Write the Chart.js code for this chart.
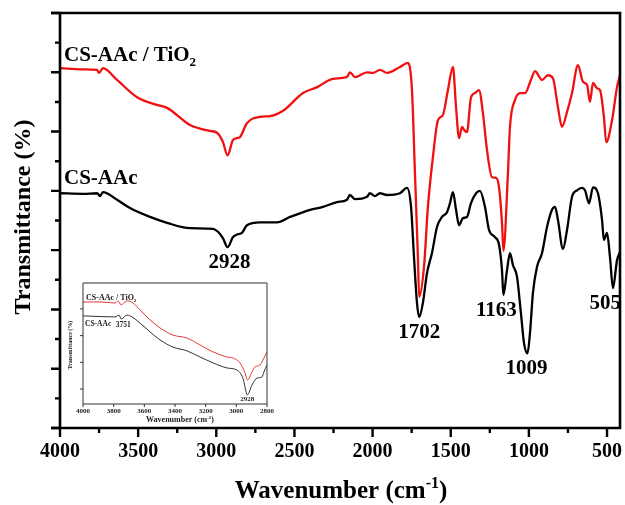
<!DOCTYPE html>
<html>
<head>
<meta charset="utf-8">
<script src="https://cdn.jsdelivr.net/npm/chart.js@4.4.1/dist/chart.umd.min.js"></script>
<style>
  html, body { margin: 0; padding: 0; background: #fff; }
  #wrap { position: relative; width: 625px; height: 505px; }
  #mainChart { position: absolute; left: 0; top: 0; }
  #insetChart { position: absolute; left: 63px; top: 276px; }
</style>
</head>
<body>
<div id="wrap">
  <canvas id="mainChart" width="625" height="505"></canvas>
  <canvas id="insetChart" width="212" height="149"></canvas>
</div>
<script>
const SERIF = '"Liberation Serif", "Times New Roman", serif';

// FTIR spectra, full range (wavenumber in cm-1, transmittance in arbitrary %)
const tio2Wavenumber = [4000, 3853, 3763, 3750, 3725, 3635, 3507, 3379, 3315, 3168, 3040, 2995, 2957, 2928, 2893, 2868, 2848, 2804, 2720, 2656, 2573, 2445, 2355, 2253, 2164, 2145, 2113, 2036, 1997, 1953, 1908, 1825, 1774, 1748, 1729, 1710, 1702, 1671, 1646, 1614, 1582, 1550, 1518, 1486, 1466, 1447, 1428, 1415, 1396, 1371, 1345, 1319, 1294, 1268, 1236, 1210, 1191, 1172, 1163, 1134, 1121, 1089, 1057, 1025, 987, 961, 916, 878, 846, 814, 788, 756, 724, 686, 654, 628, 609, 590, 564, 545, 520, 505, 468, 436, 417];
const tio2Transmittance = [60.7, 60.5, 60.4, 59.9, 60.7, 58.7, 55.8, 54.5, 54.0, 51.1, 50.1, 49.8, 48.2, 46.0, 48.6, 48.9, 49.1, 51.4, 52.5, 52.6, 53.5, 56.5, 57.5, 58.9, 59.2, 60.0, 59.2, 60.0, 59.9, 60.4, 59.9, 60.9, 61.6, 57.0, 43.0, 28.8, 22.1, 27.2, 37.3, 45.7, 51.9, 52.8, 57.0, 60.9, 54.1, 48.9, 50.8, 50.3, 49.9, 55.7, 56.5, 57.0, 53.1, 46.9, 42.3, 42.2, 40.6, 34.6, 29.9, 43.0, 50.8, 55.3, 56.5, 56.5, 58.7, 60.2, 58.7, 59.5, 59.0, 54.1, 50.8, 53.3, 56.5, 61.2, 58.4, 57.9, 55.0, 58.2, 57.3, 57.0, 52.5, 48.2, 51.9, 57.5, 59.5];

const csWavenumber = [4000, 3853, 3763, 3744, 3725, 3635, 3552, 3424, 3315, 3168, 3021, 2989, 2957, 2928, 2893, 2861, 2836, 2804, 2720, 2612, 2528, 2400, 2317, 2228, 2164, 2145, 2113, 2036, 2017, 1985, 1953, 1908, 1825, 1780, 1754, 1735, 1716, 1702, 1678, 1652, 1620, 1588, 1556, 1524, 1505, 1486, 1466, 1447, 1422, 1396, 1371, 1338, 1313, 1281, 1255, 1217, 1191, 1172, 1163, 1140, 1121, 1102, 1076, 1051, 1031, 1009, 993, 974, 948, 916, 884, 852, 833, 814, 782, 756, 724, 692, 660, 641, 615, 590, 558, 532, 520, 500, 481, 462, 436, 417];
const csTransmittance = [39.6, 39.5, 39.6, 39.1, 39.8, 38.5, 37.1, 35.6, 34.6, 33.7, 33.6, 33.1, 32.0, 30.5, 32.2, 32.7, 32.9, 34.2, 34.7, 34.7, 35.6, 36.8, 37.3, 38.1, 38.5, 39.3, 38.6, 39.0, 39.6, 39.1, 39.6, 39.3, 39.6, 40.5, 37.3, 28.8, 21.1, 18.7, 21.1, 26.1, 29.5, 33.9, 35.6, 36.4, 37.9, 39.8, 36.8, 34.2, 35.4, 35.6, 37.9, 39.6, 40.0, 37.3, 33.4, 32.2, 30.9, 26.6, 22.4, 26.6, 29.5, 27.5, 25.5, 19.4, 14.3, 12.6, 16.0, 22.8, 27.2, 29.5, 33.9, 36.8, 37.3, 35.1, 30.2, 33.4, 39.0, 40.1, 40.5, 40.1, 37.9, 40.6, 39.6, 35.1, 31.7, 32.9, 28.8, 23.6, 28.3, 29.7];

// zoomed 4000-2800 region
const insetTio2Wavenumber = [4000, 3889, 3791, 3772, 3751, 3726, 3707, 3674, 3628, 3563, 3498, 3413, 3322, 3237, 3152, 3061, 3022, 2976, 2943, 2928, 2898, 2878, 2846, 2820, 2800];
const insetTio2Transmittance = [62.6, 62.6, 62.2, 63.0, 61.5, 62.6, 63.0, 62.2, 59.6, 55.9, 52.9, 50.2, 49.1, 46.5, 43.9, 42.0, 41.6, 39.8, 36.0, 33.4, 36.4, 38.3, 39.0, 41.6, 43.9];
const insetCsWavenumber = [4000, 3791, 3765, 3751, 3713, 3680, 3628, 3563, 3498, 3413, 3322, 3237, 3152, 3061, 2996, 2957, 2928, 2898, 2865, 2833, 2820, 2800];
const insetCsTransmittance = [57.4, 57.0, 57.7, 56.2, 57.7, 57.0, 54.7, 51.4, 48.4, 45.7, 44.3, 42.0, 39.8, 37.9, 37.1, 34.1, 27.8, 31.5, 34.1, 34.5, 36.4, 39.0];

// ticks
const mainXTicks = [4000, 3750, 3500, 3250, 3000, 2750, 2500, 2250, 2000, 1750, 1500, 1250, 1000, 750, 500];
const mainYTicks = [0, 5, 10, 15, 20, 25, 30, 35, 40, 45, 50, 55, 60, 65, 70];
const insetXTicks = [4000, 3800, 3600, 3400, 3200, 3000, 2800];
const insetYTicks = [30, 40, 50, 60];

// band positions marked on the spectrum
const peakLabels = [2928, 1702, 1163, 1009, 505];
const peakLabelShift = [2, 0, -7, -1, -1];

const zip = (xs, ys) => xs.map((x, i) => ({ x: x, y: ys[i] }));

function drawRich(ctx, parts, x, y, size, align) {
  const fontFor = m => 'bold ' + (m ? Math.round(size * 0.62) : size) + 'px ' + SERIF;
  let total = 0;
  parts.forEach(([t, m]) => { ctx.font = fontFor(m); total += ctx.measureText(t).width; });
  let cx = align === 'center' ? x - total / 2 : x;
  ctx.textAlign = 'left';
  ctx.textBaseline = 'alphabetic';
  parts.forEach(([t, m]) => {
    ctx.font = fontFor(m);
    const dy = m === 'sub' ? size * 0.22 : m === 'sup' ? -size * 0.42 : 0;
    ctx.fillText(t, cx, y + dy);
    cx += ctx.measureText(t).width;
  });
}

// box, tick marks, titles and text labels
const frameTicks = {
  id: 'frameTicks',
  afterDraw(chart, args, o) {
    const { ctx, chartArea: a, scales: { x, y } } = chart;
    ctx.save();
    ctx.strokeStyle = o.color;
    ctx.lineWidth = o.frameWidth;
    ctx.beginPath();
    ctx.moveTo(a.left - o.overhang, a.top); ctx.lineTo(a.right, a.top);
    ctx.lineTo(a.right, a.bottom); ctx.lineTo(a.left - o.overhang, a.bottom);
    ctx.moveTo(a.left, a.top); ctx.lineTo(a.left, a.bottom);
    ctx.stroke();

    ctx.lineWidth = o.tickWidth;
    ctx.beginPath();
    x.ticks.forEach(t => {
      const px = x.getPixelForValue(t.value);
      const len = t.value % o.xMajor === 0 ? o.majorLen : o.minorLen;
      ctx.moveTo(px, a.bottom); ctx.lineTo(px, a.bottom + len);
    });
    y.ticks.forEach(t => {
      const py = y.getPixelForValue(t.value);
      const len = t.value % o.yMajor === 0 ? o.majorLen : o.minorLen;
      ctx.moveTo(a.left, py); ctx.lineTo(a.left - len, py);
    });
    ctx.stroke();

    ctx.fillStyle = '#000';
    o.draw(chart, ctx, a, x, y);
    ctx.restore();
  }
};

function lineSet(data, color, width) {
  return {
    data: data,
    borderColor: color,
    borderWidth: width,
    pointRadius: 0,
    fill: false,
    cubicInterpolationMode: 'monotone'
  };
}

new Chart(document.getElementById('mainChart'), {
  type: 'line',
  data: {
    datasets: [
      lineSet(zip(tio2Wavenumber, tio2Transmittance), '#f01010', 2.3),
      lineSet(zip(csWavenumber, csTransmittance), '#000000', 2.3)
    ]
  },
  options: {
    responsive: false,
    animation: false,
    layout: { padding: { top: 13, right: 5, left: 0, bottom: 0 } },
    scales: {
      x: {
        type: 'linear',
        reverse: true,
        min: 417,
        max: 4000,
        grid: { display: false, drawTicks: false },
        border: { display: false },
        afterBuildTicks: s => { s.ticks = mainXTicks.map(v => ({ value: v })); },
        afterFit: s => { s.height = 77; s.paddingLeft = 0; s.paddingRight = 0; },
        ticks: {
          autoSkip: false,
          maxRotation: 0,
          minRotation: 0,
          padding: 12,
          color: '#000',
          font: { family: SERIF, size: 20, weight: 'bold' },
          callback: v => (v % 500 === 0 ? String(v) : '')
        }
      },
      y: {
        type: 'linear',
        min: 0,
        max: 70,
        grid: { display: false, drawTicks: false },
        border: { display: false },
        afterBuildTicks: s => { s.ticks = mainYTicks.map(v => ({ value: v })); },
        afterFit: s => { s.width = 60; s.paddingTop = 0; s.paddingBottom = 0; },
        ticks: { display: false }
      }
    },
    plugins: {
      legend: { display: false },
      tooltip: { enabled: false },
      frameTicks: {
        color: '#000',
        frameWidth: 2.6,
        tickWidth: 2.4,
        overhang: 9,
        majorLen: 9,
        minorLen: 5,
        xMajor: 500,
        yMajor: 10,
        draw(chart, ctx, a, x, y) {
          drawRich(ctx, [['CS-AAc / TiO', ''], ['2', 'sub']], 64, 61, 21, 'left');
          drawRich(ctx, [['CS-AAc', '']], 64, 184, 21, 'left');
          peakLabels.forEach((wn, i) => {
            const k = csWavenumber.indexOf(wn);
            const py = y.getPixelForValue(csTransmittance[k >= 0 ? k : csWavenumber.length - 3]);
            const minPy = wn === 505 ? y.getPixelForValue(Math.min(...csTransmittance.slice(-5))) : py;
            drawRich(ctx, [[String(wn), '']], x.getPixelForValue(wn) + peakLabelShift[i], minPy + 21, 21, 'center');
          });
          drawRich(ctx, [['Wavenumber (cm', ''], ['-1', 'sup'], [')', '']], 341, 498, 25, 'center');
          ctx.save();
          ctx.translate(30, 217);
          ctx.rotate(-Math.PI / 2);
          drawRich(ctx, [['Transmittance (%)', '']], 0, 0, 24, 'center');
          ctx.restore();
        }
      }
    }
  },
  plugins: [frameTicks]
});

new Chart(document.getElementById('insetChart'), {
  type: 'line',
  data: {
    datasets: [
      lineSet(zip(insetTio2Wavenumber, insetTio2Transmittance), '#e43a3a', 1),
      lineSet(zip(insetCsWavenumber, insetCsTransmittance), '#333333', 1)
    ]
  },
  options: {
    responsive: false,
    animation: false,
    layout: { padding: { top: 7, right: 8, left: 0, bottom: 0 } },
    scales: {
      x: {
        type: 'linear',
        reverse: true,
        min: 2800,
        max: 4000,
        grid: { display: false, drawTicks: false },
        border: { display: false },
        afterBuildTicks: s => { s.ticks = insetXTicks.map(v => ({ value: v })); },
        afterFit: s => { s.height = 21; s.paddingLeft = 0; s.paddingRight = 0; },
        ticks: {
          autoSkip: false,
          maxRotation: 0,
          minRotation: 0,
          padding: 3,
          color: '#222',
          font: { family: SERIF, size: 7, weight: 'bold' },
          callback: v => String(v)
        }
      },
      y: {
        type: 'linear',
        min: 24.4,
        max: 69.7,
        grid: { display: false, drawTicks: false },
        border: { display: false },
        afterBuildTicks: s => { s.ticks = insetYTicks.map(v => ({ value: v })); },
        afterFit: s => { s.width = 20; s.paddingTop = 0; s.paddingBottom = 0; },
        ticks: { display: false }
      }
    },
    plugins: {
      legend: { display: false },
      tooltip: { enabled: false },
      frameTicks: {
        color: '#333',
        frameWidth: 1,
        tickWidth: 1,
        overhang: 0,
        majorLen: 3,
        minorLen: 3,
        xMajor: 200,
        yMajor: 10,
        draw(chart, ctx, a, x, y) {
          ctx.fillStyle = '#222';
          drawRich(ctx, [['CS-AAc / TiO', ''], ['2', 'sub']], 23, 24, 8, 'left');
          drawRich(ctx, [['CS-AAc', '']], 22, 50, 7.5, 'left');
          const k = insetCsWavenumber.indexOf(3751);
          drawRich(ctx, [['3751', '']], x.getPixelForValue(3751) + 2, y.getPixelForValue(insetCsTransmittance[k]) + 8, 7.5, 'center');
          const m = insetCsWavenumber.indexOf(2928);
          drawRich(ctx, [['2928', '']], x.getPixelForValue(2928), y.getPixelForValue(insetCsTransmittance[m]) + 6, 7, 'center');
          drawRich(ctx, [['Wavenumber (cm', ''], ['-1', 'sup'], [')', '']], 117, 146, 8, 'center');
          ctx.save();
          ctx.translate(9, 69);
          ctx.rotate(-Math.PI / 2);
          drawRich(ctx, [['Transmittance (%)', '']], 0, 0, 6, 'center');
          ctx.restore();
        }
      }
    }
  },
  plugins: [frameTicks]
});
</script>
</body>
</html>
